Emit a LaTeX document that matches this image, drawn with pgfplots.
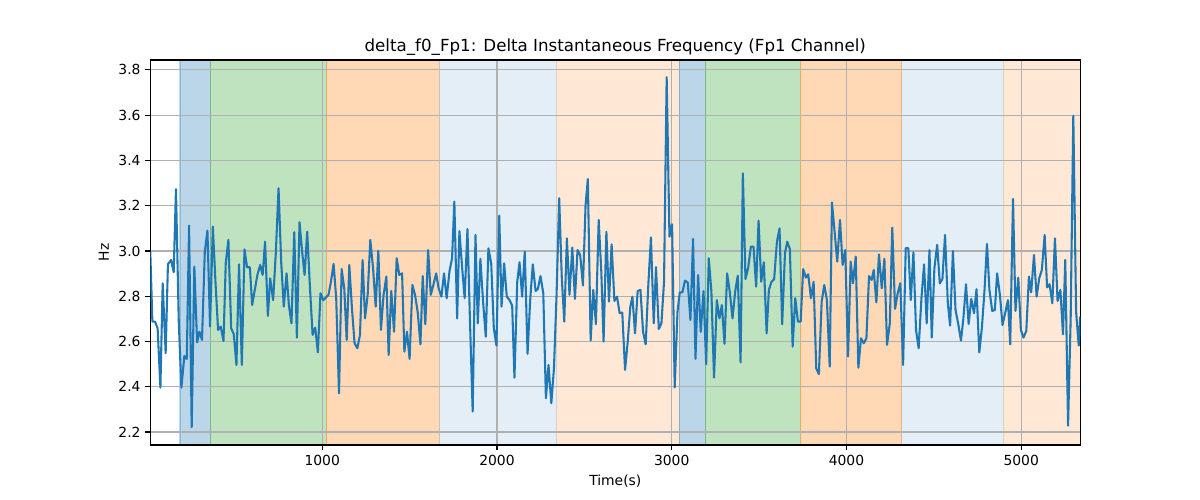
\documentclass[border=0pt]{standalone}
\usepackage{fontspec}
\setmainfont{DejaVu Sans}
\usepackage{pgfplots}
\pgfplotsset{compat=1.18}
\definecolor{tabblue}{RGB}{31,119,180}
\definecolor{tabgreen}{RGB}{44,160,44}
\definecolor{taborange}{RGB}{255,127,14}
\definecolor{gridgray}{RGB}{176,176,176}
\begin{document}
\begin{tikzpicture}
\begin{axis}[name=ax, scale only axis, width=669.6pt, height=277.2pt,
  xmin=16, xmax=5338, ymin=2.1425, ymax=3.844,
  xtick={1000,2000,3000,4000,5000},
  ytick={2.2,2.4,2.6,2.8,3.0,3.2,3.4,3.6,3.8},
  scaled ticks=false,
  /pgf/number format/assume math mode=true,
  /pgf/number format/1000 sep={},
  yticklabel style={/pgf/number format/.cd, fixed, fixed zerofill, precision=1},
  tick align=outside, tick pos=left, major tick length=3.5pt,
  every tick/.style={black, line width=0.8pt},
  grid=major, grid style={gridgray, line width=0.8pt},
  axis line style={line width=0.8pt},
  set layers,
  title={delta\_f0\_Fp1: Delta Instantaneous Frequency (Fp1 Channel)},
  title style={font=\fontsize{12}{14}\selectfont, at={(0.5,1)}, anchor=base, yshift=0.3pt},
  xlabel={Time(s)}, ylabel={Hz},
  label style={font=\fontsize{10}{12}\selectfont},
  tick label style={font=\fontsize{10}{12}\selectfont},
]
\addplot[on layer=axis background, fill=tabblue, fill opacity=0.3, draw=tabblue, draw opacity=0.3, line width=0.8pt] coordinates {(186,2.1425)(360,2.1425)(360,3.844)(186,3.844)} -- cycle;
\addplot[on layer=axis background, fill=tabgreen, fill opacity=0.3, draw=tabgreen, draw opacity=0.3, line width=0.8pt] coordinates {(360,2.1425)(1024,2.1425)(1024,3.844)(360,3.844)} -- cycle;
\addplot[on layer=axis background, fill=taborange, fill opacity=0.3, draw=taborange, draw opacity=0.3, line width=0.8pt] coordinates {(1024,2.1425)(1669,2.1425)(1669,3.844)(1024,3.844)} -- cycle;
\addplot[on layer=axis background, fill=tabblue, fill opacity=0.12, draw=tabblue, draw opacity=0.12, line width=0.8pt] coordinates {(1669,2.1425)(2343,2.1425)(2343,3.844)(1669,3.844)} -- cycle;
\addplot[on layer=axis background, fill=taborange, fill opacity=0.17, draw=taborange, draw opacity=0.17, line width=0.8pt] coordinates {(2343,2.1425)(3042,2.1425)(3042,3.844)(2343,3.844)} -- cycle;
\addplot[on layer=axis background, fill=tabblue, fill opacity=0.3, draw=tabblue, draw opacity=0.3, line width=0.8pt] coordinates {(3042,2.1425)(3191,2.1425)(3191,3.844)(3042,3.844)} -- cycle;
\addplot[on layer=axis background, fill=tabgreen, fill opacity=0.3, draw=tabgreen, draw opacity=0.3, line width=0.8pt] coordinates {(3191,2.1425)(3735,2.1425)(3735,3.844)(3191,3.844)} -- cycle;
\addplot[on layer=axis background, fill=taborange, fill opacity=0.3, draw=taborange, draw opacity=0.3, line width=0.8pt] coordinates {(3735,2.1425)(4316,2.1425)(4316,3.844)(3735,3.844)} -- cycle;
\addplot[on layer=axis background, fill=tabblue, fill opacity=0.12, draw=tabblue, draw opacity=0.12, line width=0.8pt] coordinates {(4316,2.1425)(4899,2.1425)(4899,3.844)(4316,3.844)} -- cycle;
\addplot[on layer=axis background, fill=taborange, fill opacity=0.17, draw=taborange, draw opacity=0.17, line width=0.8pt] coordinates {(4899,2.1425)(5338,2.1425)(5338,3.844)(4899,3.844)} -- cycle;
\addplot[tabblue, line width=1.5pt, line join=round, mark=none] table {
t v
16 2.997
28 2.688
43 2.688
58 2.658
74 2.396
87 2.857
104 2.548
117 2.941
135 2.960
150 2.906
163 3.273
179 2.688
194 2.396
211 2.536
225 2.523
238 3.112
253 2.221
268 2.931
284 2.596
297 2.643
312 2.607
328 2.997
343 3.090
358 2.666
374 3.108
389 2.864
404 2.651
419 2.666
435 2.602
448 2.948
463 3.049
479 2.658
494 2.632
509 2.496
524 2.941
540 2.496
555 3.007
570 2.928
586 2.928
599 2.761
614 2.828
629 2.894
645 2.938
659 2.894
673 3.041
689 2.713
702 2.879
719 2.783
735 3.000
750 3.277
765 2.953
780 2.754
796 2.901
809 2.761
824 2.680
840 3.083
855 2.617
870 3.127
885 2.997
899 2.894
914 3.085
930 2.835
945 2.629
960 2.661
975 2.552
990 2.813
1006 2.783
1021 2.794
1036 2.806
1050 2.864
1065 2.943
1080 2.791
1096 2.371
1111 2.920
1126 2.835
1140 2.607
1155 2.938
1170 2.747
1185 2.592
1201 2.570
1216 2.629
1231 2.960
1245 2.702
1260 2.806
1275 3.049
1291 2.923
1306 2.754
1321 3.001
1336 2.651
1351 2.806
1367 2.887
1380 2.540
1395 2.823
1411 2.643
1426 2.968
1441 2.894
1457 2.901
1470 2.555
1485 2.643
1500 2.523
1516 2.850
1531 2.806
1546 2.732
1562 2.587
1575 2.889
1590 2.676
1606 3.004
1621 2.806
1636 2.850
1652 2.901
1666 2.835
1682 2.798
1697 2.901
1712 2.791
1728 2.909
1743 2.968
1756 3.218
1772 2.702
1785 3.088
1801 2.923
1815 2.791
1831 3.097
1846 2.676
1861 2.290
1877 3.071
1890 2.680
1905 2.965
1921 2.769
1936 2.621
1951 3.012
1967 2.945
1982 2.658
1997 2.582
2013 3.156
2026 2.754
2041 2.945
2056 2.798
2072 2.783
2087 2.758
2100 2.440
2116 2.864
2129 2.950
2144 2.798
2159 2.997
2175 2.545
2190 2.783
2205 2.941
2221 2.823
2234 2.832
2249 2.889
2265 2.813
2280 2.349
2295 2.496
2311 2.327
2326 2.481
2341 2.806
2356 3.233
2371 2.879
2385 2.688
2400 3.056
2415 2.806
2431 3.015
2446 2.788
2461 3.004
2476 2.982
2492 2.847
2507 3.203
2520 3.318
2536 2.604
2551 2.828
2566 2.676
2582 3.137
2597 2.909
2610 2.599
2626 3.085
2641 2.776
2656 3.029
2672 2.779
2687 2.798
2702 2.725
2717 2.728
2733 2.474
2748 2.599
2763 2.754
2775 2.798
2790 2.636
2805 2.823
2821 2.828
2836 2.643
2851 2.587
2866 2.850
2881 3.060
2897 2.680
2910 2.928
2926 2.655
2941 2.680
2956 2.864
2971 3.768
2987 3.063
3002 3.118
3017 2.397
3033 2.732
3046 2.817
3061 2.817
3076 2.869
3092 2.860
3107 2.695
3122 3.053
3136 2.523
3151 2.894
3166 2.643
3182 2.823
3197 2.499
3212 2.968
3227 2.820
3242 2.440
3258 2.783
3273 2.702
3287 2.761
3302 2.590
3317 2.901
3332 2.820
3348 2.702
3363 2.820
3378 2.891
3394 2.508
3407 3.343
3422 2.876
3437 2.923
3453 3.019
3468 3.019
3483 2.842
3497 3.134
3512 2.864
3527 2.950
3543 2.636
3556 2.828
3571 2.864
3586 2.875
3602 3.041
3617 3.100
3632 2.676
3648 2.990
3661 3.041
3676 3.009
3692 2.577
3707 2.791
3722 2.688
3738 2.688
3752 2.920
3768 2.882
3781 2.897
3797 2.791
3812 2.864
3827 2.481
3842 2.456
3858 2.776
3873 2.850
3888 2.783
3904 2.489
3917 3.214
3932 3.085
3947 2.953
3963 3.137
3978 2.938
3993 3.004
4009 2.533
4024 2.953
4037 2.857
4053 2.975
4068 2.484
4083 2.614
4099 2.592
4114 2.614
4129 2.889
4144 2.872
4156 2.916
4171 2.773
4186 2.985
4202 2.835
4217 2.965
4232 2.585
4248 2.680
4262 3.103
4278 2.744
4293 2.813
4308 2.857
4324 2.496
4339 3.012
4354 3.012
4368 2.783
4383 2.994
4398 2.651
4413 2.570
4429 2.791
4444 2.941
4459 2.680
4475 3.004
4488 2.617
4503 2.923
4519 3.027
4534 2.857
4549 2.876
4564 3.071
4580 2.769
4593 2.670
4609 3.000
4624 2.739
4639 2.680
4655 2.604
4669 2.702
4684 2.853
4699 2.677
4714 2.788
4730 2.725
4744 2.831
4760 2.552
4775 2.661
4790 2.828
4804 3.031
4818 2.828
4834 2.735
4849 2.739
4862 2.901
4878 2.806
4893 2.673
4908 2.725
4924 2.783
4937 2.587
4953 3.230
4967 2.735
4983 2.882
4998 2.651
5013 2.617
5029 2.647
5044 2.887
5057 2.817
5073 2.982
5088 2.798
5103 2.879
5118 2.916
5134 3.071
5148 2.839
5162 2.853
5178 2.769
5193 3.056
5208 2.779
5224 2.828
5239 2.632
5252 2.960
5268 2.228
5283 2.702
5298 3.598
5314 2.732
5329 2.582
5338 2.710
};
\end{axis}
\path ([xshift=-108.2pt,yshift=-39.6pt]ax.south west) rectangle ([xshift=86.2pt,yshift=43.2pt]ax.north east);
\end{tikzpicture}
\end{document}
